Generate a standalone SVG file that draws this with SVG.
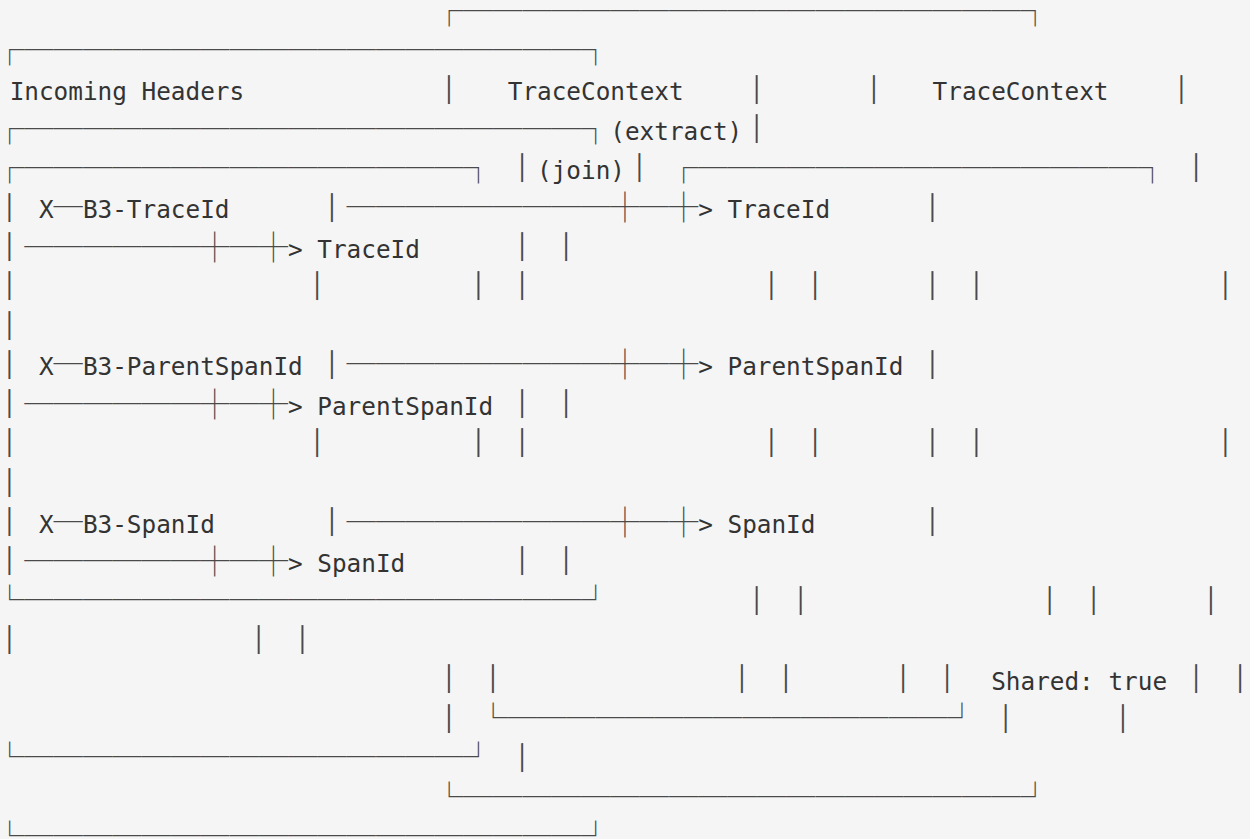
<svg xmlns="http://www.w3.org/2000/svg" width="1250" height="839" viewBox="0 0 1250 839">
<style>
text{white-space:pre}
.t{font-family:"DejaVu Sans Mono","Liberation Mono",monospace;font-size:24.35px;fill:#333}
.b{font-family:"Noto Sans CJK SC","DejaVu Sans Mono",monospace;font-size:29.3px;fill:#4a4a4a}
.d{font-family:"DejaVu Sans Mono","Liberation Mono",monospace;font-size:24.35px;fill:#4a4a4a}
</style>
<rect width="1250" height="839" fill="#f5f5f5"/>
<g id="row1"><text class="b" x="434.5" y="21.7" textLength="615.3" lengthAdjust="spacingAndGlyphs">┌───────────────────┐</text></g>
<g id="row2"><text class="b" x="-5" y="61" textLength="615.3" lengthAdjust="spacingAndGlyphs">┌───────────────────┐</text></g>
<g id="row3">
<text class="t" x="9.65" y="100.3">Incoming Headers</text>
<text class="d" x="441.83" y="97.7" textLength="14.65" lengthAdjust="spacingAndGlyphs">│</text>
<text class="t" x="507.75" y="100.3">TraceContext</text>
<text class="d" x="749.48" y="97.7" textLength="14.65" lengthAdjust="spacingAndGlyphs">│</text>
<text class="d" x="866.68" y="97.7" textLength="14.65" lengthAdjust="spacingAndGlyphs">│</text>
<text class="t" x="932.6" y="100.3">TraceContext</text>
<text class="d" x="1174.33" y="97.7" textLength="14.65" lengthAdjust="spacingAndGlyphs">│</text>
</g>
<g id="row4">
<text class="b" x="-5" y="139.6" textLength="615.3" lengthAdjust="spacingAndGlyphs">┌───────────────────┐</text>
<text class="t" x="610.3" y="139.6">(extract)</text>
<text class="d" x="749.48" y="137" textLength="14.65" lengthAdjust="spacingAndGlyphs">│</text>
</g>
<g id="row5">
<text class="b" x="-5" y="178.9" textLength="498.1" lengthAdjust="spacingAndGlyphs">┌───────────────┐</text>
<text class="d" x="515.08" y="176.3" textLength="14.65" lengthAdjust="spacingAndGlyphs">│</text>
<text class="t" x="537.05" y="178.9">(join)</text>
<text class="d" x="632.28" y="176.3" textLength="14.65" lengthAdjust="spacingAndGlyphs">│</text>
<text class="b" x="668.9" y="178.9" textLength="498.1" lengthAdjust="spacingAndGlyphs">┌───────────────┐</text>
<text class="d" x="1188.98" y="176.3" textLength="14.65" lengthAdjust="spacingAndGlyphs">│</text>
</g>
<g id="row6">
<text class="d" x="2.3" y="215.6" textLength="14.65" lengthAdjust="spacingAndGlyphs">│</text>
<text class="t" x="38.95" y="218.2">X</text>
<text class="b" x="53.6" y="218.2" textLength="29.26" lengthAdjust="spacingAndGlyphs">─</text>
<text class="t" x="82.9" y="218.2">B3-TraceId</text>
<text class="d" x="324.63" y="215.6" textLength="14.65" lengthAdjust="spacingAndGlyphs">│</text>
<text class="b" x="346.6" y="218.2" textLength="351.6" lengthAdjust="spacingAndGlyphs">─────────┼─┼</text>
<text class="t" x="698.2" y="218.2">&gt; TraceId</text>
<text class="d" x="925.28" y="215.6" textLength="14.65" lengthAdjust="spacingAndGlyphs">│</text>
</g>
<g id="row7">
<text class="d" x="2.3" y="254.9" textLength="14.65" lengthAdjust="spacingAndGlyphs">│</text>
<text class="b" x="24.3" y="257.5" textLength="263.7" lengthAdjust="spacingAndGlyphs">──────┼─┼</text>
<text class="t" x="288" y="257.5">&gt; TraceId</text>
<text class="d" x="515.08" y="254.9" textLength="14.65" lengthAdjust="spacingAndGlyphs">│</text>
<text class="d" x="559.03" y="254.9" textLength="14.65" lengthAdjust="spacingAndGlyphs">│</text>
</g>
<g id="row8">
<text class="d" x="2.3" y="294.2" textLength="14.65" lengthAdjust="spacingAndGlyphs">│</text>
<text class="d" x="309.98" y="294.2" textLength="14.65" lengthAdjust="spacingAndGlyphs">│</text>
<text class="d" x="471.13" y="294.2" textLength="14.65" lengthAdjust="spacingAndGlyphs">│</text>
<text class="d" x="515.08" y="294.2" textLength="14.65" lengthAdjust="spacingAndGlyphs">│</text>
<text class="d" x="764.13" y="294.2" textLength="14.65" lengthAdjust="spacingAndGlyphs">│</text>
<text class="d" x="808.08" y="294.2" textLength="14.65" lengthAdjust="spacingAndGlyphs">│</text>
<text class="d" x="925.28" y="294.2" textLength="14.65" lengthAdjust="spacingAndGlyphs">│</text>
<text class="d" x="969.23" y="294.2" textLength="14.65" lengthAdjust="spacingAndGlyphs">│</text>
<text class="d" x="1218.28" y="294.2" textLength="14.65" lengthAdjust="spacingAndGlyphs">│</text>
</g>
<g id="row9"><text class="d" x="2.3" y="333.5" textLength="14.65" lengthAdjust="spacingAndGlyphs">│</text></g>
<g id="row10">
<text class="d" x="2.3" y="372.8" textLength="14.65" lengthAdjust="spacingAndGlyphs">│</text>
<text class="t" x="38.95" y="375.4">X</text>
<text class="b" x="53.6" y="375.4" textLength="29.26" lengthAdjust="spacingAndGlyphs">─</text>
<text class="t" x="82.9" y="375.4">B3-ParentSpanId</text>
<text class="d" x="324.63" y="372.8" textLength="14.65" lengthAdjust="spacingAndGlyphs">│</text>
<text class="b" x="346.6" y="375.4" textLength="351.6" lengthAdjust="spacingAndGlyphs">─────────┼─┼</text>
<text class="t" x="698.2" y="375.4">&gt; ParentSpanId</text>
<text class="d" x="925.28" y="372.8" textLength="14.65" lengthAdjust="spacingAndGlyphs">│</text>
</g>
<g id="row11">
<text class="d" x="2.3" y="412.1" textLength="14.65" lengthAdjust="spacingAndGlyphs">│</text>
<text class="b" x="24.3" y="414.7" textLength="263.7" lengthAdjust="spacingAndGlyphs">──────┼─┼</text>
<text class="t" x="288" y="414.7">&gt; ParentSpanId</text>
<text class="d" x="515.08" y="412.1" textLength="14.65" lengthAdjust="spacingAndGlyphs">│</text>
<text class="d" x="559.03" y="412.1" textLength="14.65" lengthAdjust="spacingAndGlyphs">│</text>
</g>
<g id="row12">
<text class="d" x="2.3" y="451.4" textLength="14.65" lengthAdjust="spacingAndGlyphs">│</text>
<text class="d" x="309.98" y="451.4" textLength="14.65" lengthAdjust="spacingAndGlyphs">│</text>
<text class="d" x="471.13" y="451.4" textLength="14.65" lengthAdjust="spacingAndGlyphs">│</text>
<text class="d" x="515.08" y="451.4" textLength="14.65" lengthAdjust="spacingAndGlyphs">│</text>
<text class="d" x="764.13" y="451.4" textLength="14.65" lengthAdjust="spacingAndGlyphs">│</text>
<text class="d" x="808.08" y="451.4" textLength="14.65" lengthAdjust="spacingAndGlyphs">│</text>
<text class="d" x="925.28" y="451.4" textLength="14.65" lengthAdjust="spacingAndGlyphs">│</text>
<text class="d" x="969.23" y="451.4" textLength="14.65" lengthAdjust="spacingAndGlyphs">│</text>
<text class="d" x="1218.28" y="451.4" textLength="14.65" lengthAdjust="spacingAndGlyphs">│</text>
</g>
<g id="row13"><text class="d" x="2.3" y="490.7" textLength="14.65" lengthAdjust="spacingAndGlyphs">│</text></g>
<g id="row14">
<text class="d" x="2.3" y="530" textLength="14.65" lengthAdjust="spacingAndGlyphs">│</text>
<text class="t" x="38.95" y="532.6">X</text>
<text class="b" x="53.6" y="532.6" textLength="29.26" lengthAdjust="spacingAndGlyphs">─</text>
<text class="t" x="82.9" y="532.6">B3-SpanId</text>
<text class="d" x="324.63" y="530" textLength="14.65" lengthAdjust="spacingAndGlyphs">│</text>
<text class="b" x="346.6" y="532.6" textLength="351.6" lengthAdjust="spacingAndGlyphs">─────────┼─┼</text>
<text class="t" x="698.2" y="532.6">&gt; SpanId</text>
<text class="d" x="925.28" y="530" textLength="14.65" lengthAdjust="spacingAndGlyphs">│</text>
</g>
<g id="row15">
<text class="d" x="2.3" y="569.3" textLength="14.65" lengthAdjust="spacingAndGlyphs">│</text>
<text class="b" x="24.3" y="571.9" textLength="263.7" lengthAdjust="spacingAndGlyphs">──────┼─┼</text>
<text class="t" x="288" y="571.9">&gt; SpanId</text>
<text class="d" x="515.08" y="569.3" textLength="14.65" lengthAdjust="spacingAndGlyphs">│</text>
<text class="d" x="559.03" y="569.3" textLength="14.65" lengthAdjust="spacingAndGlyphs">│</text>
</g>
<g id="row16">
<text class="b" x="-5" y="611.2" textLength="615.3" lengthAdjust="spacingAndGlyphs">└───────────────────┘</text>
<text class="d" x="749.48" y="608.6" textLength="14.65" lengthAdjust="spacingAndGlyphs">│</text>
<text class="d" x="793.43" y="608.6" textLength="14.65" lengthAdjust="spacingAndGlyphs">│</text>
<text class="d" x="1042.48" y="608.6" textLength="14.65" lengthAdjust="spacingAndGlyphs">│</text>
<text class="d" x="1086.43" y="608.6" textLength="14.65" lengthAdjust="spacingAndGlyphs">│</text>
<text class="d" x="1203.63" y="608.6" textLength="14.65" lengthAdjust="spacingAndGlyphs">│</text>
</g>
<g id="row17">
<text class="d" x="2.3" y="647.9" textLength="14.65" lengthAdjust="spacingAndGlyphs">│</text>
<text class="d" x="251.38" y="647.9" textLength="14.65" lengthAdjust="spacingAndGlyphs">│</text>
<text class="d" x="295.33" y="647.9" textLength="14.65" lengthAdjust="spacingAndGlyphs">│</text>
</g>
<g id="row18">
<text class="d" x="441.83" y="687.2" textLength="14.65" lengthAdjust="spacingAndGlyphs">│</text>
<text class="d" x="485.78" y="687.2" textLength="14.65" lengthAdjust="spacingAndGlyphs">│</text>
<text class="d" x="734.83" y="687.2" textLength="14.65" lengthAdjust="spacingAndGlyphs">│</text>
<text class="d" x="778.78" y="687.2" textLength="14.65" lengthAdjust="spacingAndGlyphs">│</text>
<text class="d" x="895.98" y="687.2" textLength="14.65" lengthAdjust="spacingAndGlyphs">│</text>
<text class="d" x="939.93" y="687.2" textLength="14.65" lengthAdjust="spacingAndGlyphs">│</text>
<text class="t" x="991.2" y="689.8">Shared: true</text>
<text class="d" x="1188.98" y="687.2" textLength="14.65" lengthAdjust="spacingAndGlyphs">│</text>
<text class="d" x="1232.93" y="687.2" textLength="14.65" lengthAdjust="spacingAndGlyphs">│</text>
</g>
<g id="row19">
<text class="d" x="441.83" y="726.5" textLength="14.65" lengthAdjust="spacingAndGlyphs">│</text>
<text class="b" x="478.45" y="729.1" textLength="498.1" lengthAdjust="spacingAndGlyphs">└───────────────┘</text>
<text class="d" x="998.53" y="726.5" textLength="14.65" lengthAdjust="spacingAndGlyphs">│</text>
<text class="d" x="1115.73" y="726.5" textLength="14.65" lengthAdjust="spacingAndGlyphs">│</text>
</g>
<g id="row20">
<text class="b" x="-5" y="768.4" textLength="498.1" lengthAdjust="spacingAndGlyphs">└───────────────┘</text>
<text class="d" x="515.08" y="765.8" textLength="14.65" lengthAdjust="spacingAndGlyphs">│</text>
</g>
<g id="row21"><text class="b" x="434.5" y="807.7" textLength="615.3" lengthAdjust="spacingAndGlyphs">└───────────────────┘</text></g>
<g id="row22"><text class="b" x="-5" y="847" textLength="615.3" lengthAdjust="spacingAndGlyphs">└───────────────────┘</text></g>
</svg>
